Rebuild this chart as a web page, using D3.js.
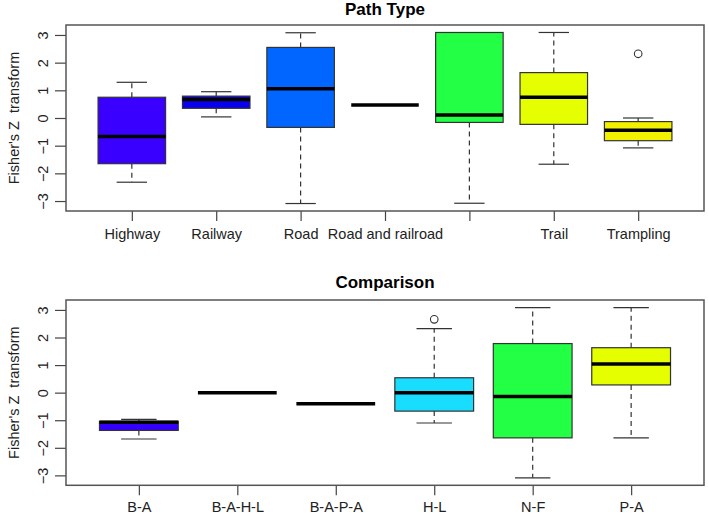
<!DOCTYPE html>
<html lang="en">
<head>
  <meta charset="UTF-8">
  <title>Fisher's Z boxplots</title>
  <script src="https://d3js.org/d3.v7.min.js"></script>
  <style>
    body { margin:0; background:#fff; }
    svg { display:block; font-family:"Liberation Sans", Arial, sans-serif; }
    .ylab { white-space: pre; }
  </style>
</head>
<body>
  <script>
    // 1) Data: [lower whisker, Q1, median, Q3, upper whisker]
    const pathLabels = ["Highway", "Railway", "Road", "Road and railroad", "", "Trail", "Trampling"];
    const pathStats = [
      [-2.32, -1.65, -0.67, 0.75, 1.29],
      [0.04, 0.35, 0.67, 0.79, 0.95],
      [-3.09, -0.34, 1.06, 2.55, 3.08],
      [0.47, 0.47, 0.47, 0.47, 0.47],
      [-3.08, -0.16, 0.11, 3.09, 3.09],
      [-1.67, -0.23, 0.75, 1.64, 3.09],
      [-1.08, -0.82, -0.44, -0.13, 0.0]
    ];
    const pathOutliers = [[], [], [], [], [], [], [2.32]];
    const pathColors = ["#3a00ff", "#0a00f0", "#0066ff", "#0099ff", "#22ff44", "#e5ff00", "#f2f200"];

    const compLabels = ["B-A", "B-A-H-L", "B-A-P-A", "H-L", "N-F", "P-A"];
    const compStats = [
      [-1.68, -1.37, -1.07, -1.04, -0.97],
      [0.0, 0.0, 0.0, 0.0, 0.0],
      [-0.40, -0.40, -0.40, -0.40, -0.40],
      [-1.10, -0.67, 0.0, 0.54, 2.32],
      [-3.09, -1.64, -0.14, 1.78, 3.08],
      [-1.64, 0.28, 1.04, 1.63, 3.08]
    ];
    const compOutliers = [[], [], [], [2.66], [], []];
    const compColors = ["#3300ff", "#0066ff", "#0099ff", "#19ddff", "#22ff44", "#e5ff00"];

    const yTicks = [-3, -2, -1, 0, 1, 2, 3];

    const width = 709, height = 515;
    const svg = d3.select("body").append("svg")
      .attr("width", width).attr("height", height);

    // 2) One boxplot panel
    function panel(title, labels, stats, outliers, colors, top, bottom, titleY, labelY) {
      const n = labels.length;
      const left = 66, right = 704;
      // R extends the x range by 4% on each side
      const x = d3.scaleLinear().domain([0.5 - 0.04 * n, n + 0.5 + 0.04 * n]).range([left, right]);
      const y = d3.scaleLinear().domain([-3.36, 3.36]).range([bottom, top]);
      const bw = x(1.4) - x(1); // half box width
      const sw = x(1.18) - x(1); // half staple width

      const g = svg.append("g");

      g.append("text")
        .attr("x", (left + right) / 2).attr("y", titleY)
        .attr("text-anchor", "middle")
        .style("font-size", "17px").style("font-weight", "bold")
        .text(title);

      // y axis
      const ya = g.append("g").attr("transform", `translate(${left},0)`)
        .call(d3.axisLeft(y).tickValues(yTicks).tickSize(11).tickFormat(d3.format("d")));
      ya.select(".domain").remove();
      ya.selectAll("line").attr("stroke", "#444").attr("stroke-width", 1.2);
      ya.selectAll("text")
        .attr("transform", "rotate(-90)")
        .attr("x", 0).attr("y", -18).attr("dy", 0)
        .style("text-anchor", "middle")
        .style("font-size", "14.5px").attr("fill", "#222")
        .text(d => d < 0 ? "\u2212" + Math.abs(d) : d);

      g.append("text")
        .attr("class", "ylab")
        .attr("transform", `translate(19,${(top + bottom) / 2}) rotate(-90)`)
        .attr("text-anchor", "middle")
        .style("font-size", "14.5px").attr("fill", "#222")
        .text("Fisher's Z  transform");

      // x axis
      const xa = g.append("g").attr("transform", `translate(0,${bottom})`)
        .call(d3.axisBottom(x).tickValues(d3.range(1, n + 1)).tickSize(10).tickFormat(d => labels[d - 1]));
      xa.select(".domain").remove();
      xa.selectAll("line").attr("stroke", "#444").attr("stroke-width", 1.2);
      xa.selectAll("text")
        .attr("y", labelY - bottom).attr("dy", 0)
        .style("font-size", "14.5px").attr("fill", "#222");

      // boxes
      const boxes = g.selectAll(".bx").data(stats).join("g").attr("class", "bx");
      boxes.append("line")
        .attr("x1", (d, i) => x(i + 1)).attr("x2", (d, i) => x(i + 1))
        .attr("y1", d => y(d[3])).attr("y2", d => y(d[4]))
        .attr("stroke", "#333").attr("stroke-width", 1.2).attr("stroke-dasharray", "5,4");
      boxes.append("line")
        .attr("x1", (d, i) => x(i + 1)).attr("x2", (d, i) => x(i + 1))
        .attr("y1", d => y(d[1])).attr("y2", d => y(d[0]))
        .attr("stroke", "#333").attr("stroke-width", 1.2).attr("stroke-dasharray", "5,4");
      [0, 4].forEach(k => {
        boxes.filter(d => d[k] !== d[k === 0 ? 1 : 3]).append("line")
          .attr("x1", d => x(stats.indexOf(d) + 1) - sw).attr("x2", d => x(stats.indexOf(d) + 1) + sw)
          .attr("y1", d => y(d[k])).attr("y2", d => y(d[k]))
          .attr("stroke", "#333").attr("stroke-width", 1.2);
      });
      boxes.append("rect")
        .attr("x", (d, i) => x(i + 1) - bw).attr("width", 2 * bw)
        .attr("y", d => y(d[3])).attr("height", d => y(d[1]) - y(d[3]))
        .attr("fill", (d, i) => colors[i])
        .attr("stroke", "#333").attr("stroke-width", 1.2);
      boxes.append("line")
        .attr("x1", (d, i) => x(i + 1) - bw).attr("x2", (d, i) => x(i + 1) + bw)
        .attr("y1", d => y(d[2])).attr("y2", d => y(d[2]))
        .attr("stroke", "#000").attr("stroke-width", 3.5);

      // outliers
      outliers.forEach((vals, i) => {
        g.selectAll(null).data(vals).join("circle")
          .attr("cx", x(i + 1)).attr("cy", d => y(d)).attr("r", 3.8)
          .attr("fill", "none").attr("stroke", "#333").attr("stroke-width", 1.1);
      });

      // frame
      g.append("rect")
        .attr("x", left).attr("y", top).attr("width", right - left).attr("height", bottom - top)
        .attr("fill", "none").attr("stroke", "#555").attr("stroke-width", 1.5);
    }

    panel("Path Type", pathLabels, pathStats, pathOutliers, pathColors, 25, 211, 15, 239);
    panel("Comparison", compLabels, compStats, compOutliers, compColors, 300, 485.3, 288, 512);
  </script>
</body>
</html>
